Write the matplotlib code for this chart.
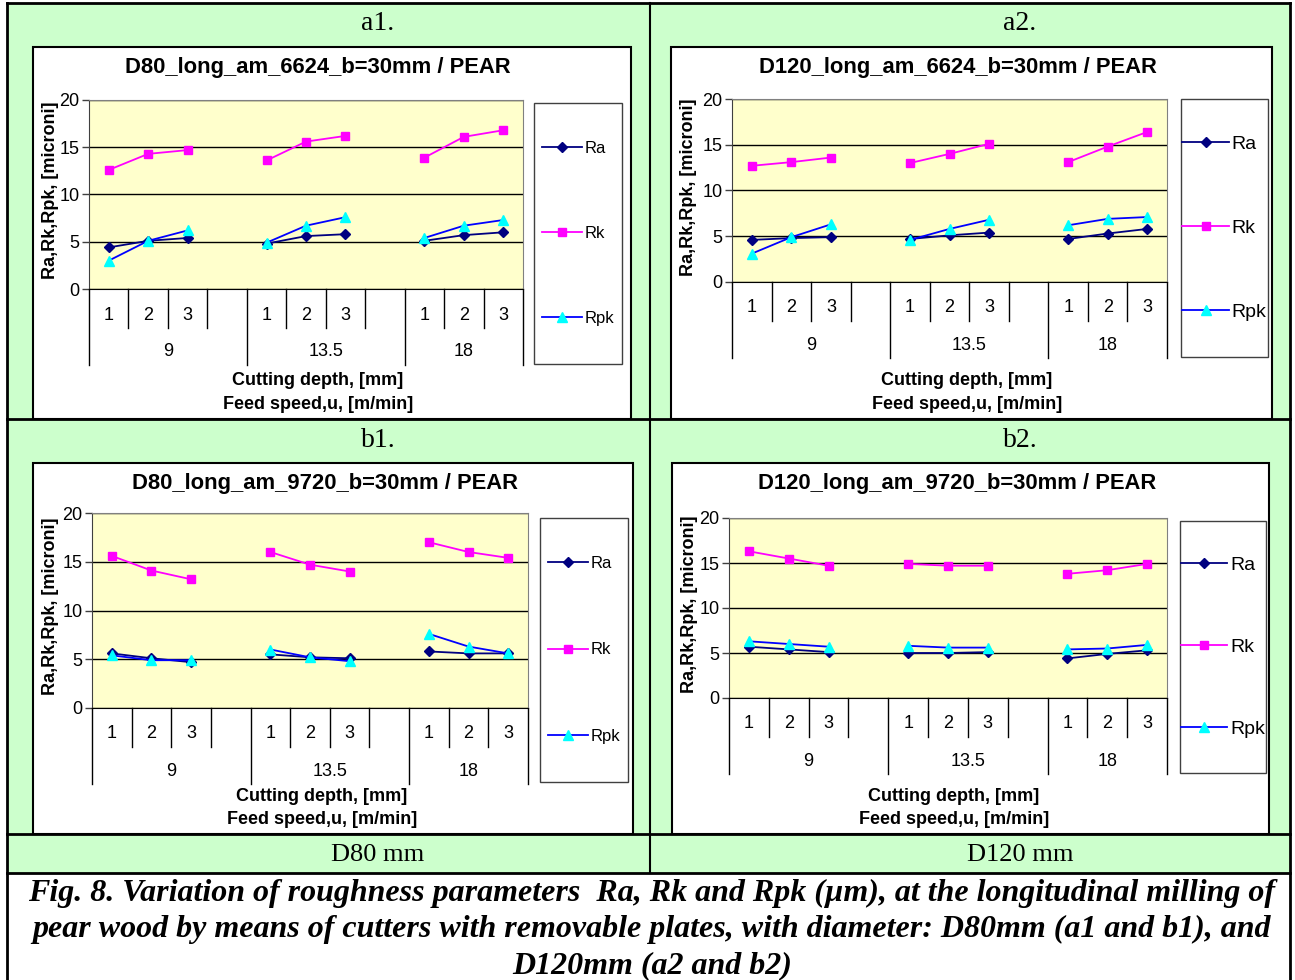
import numpy as np
import matplotlib
matplotlib.use('Agg')
import matplotlib.pyplot as plt
from matplotlib.patches import Rectangle
from matplotlib.transforms import blended_transform_factory

plt.rcParams['font.family'] = ['Liberation Sans', 'DejaVu Sans']

W, H = 1295, 980

# x axis: feed speed groups, cutting depth levels inside each group
groups = ['9', '13.5', '18']
levels = ['1', '2', '3']
series_names = ['Ra', 'Rk', 'Rpk']

# values, [group][level]
a1_ra = [[4.4, 5.1, 5.4], [4.8, 5.6, 5.8], [5.1, 5.7, 6.0]]
a1_rk = [[12.6, 14.3, 14.7], [13.6, 15.6, 16.2], [13.9, 16.1, 16.8]]
a1_rpk = [[3.0, 5.1, 6.2], [4.9, 6.7, 7.6], [5.4, 6.7, 7.3]]

a2_ra = [[4.6, 4.8, 4.9], [4.7, 5.1, 5.4], [4.7, 5.3, 5.8]]
a2_rk = [[12.7, 13.1, 13.6], [13.0, 14.0, 15.1], [13.1, 14.8, 16.4]]
a2_rpk = [[3.1, 4.9, 6.3], [4.6, 5.8, 6.8], [6.2, 6.9, 7.1]]

b1_ra = [[5.6, 5.1, 4.7], [5.5, 5.2, 5.1], [5.8, 5.6, 5.6]]
b1_rk = [[15.6, 14.1, 13.2], [16.0, 14.7, 14.0], [17.0, 16.0, 15.4]]
b1_rpk = [[5.4, 4.9, 4.9], [6.0, 5.2, 4.8], [7.6, 6.3, 5.6]]

b2_ra = [[5.7, 5.4, 5.1], [5.0, 5.0, 5.1], [4.4, 4.9, 5.3]]
b2_rk = [[16.3, 15.5, 14.7], [14.9, 14.7, 14.7], [13.8, 14.2, 14.9]]
b2_rpk = [[6.3, 6.0, 5.7], [5.8, 5.6, 5.6], [5.4, 5.5, 5.9]]

panel_tags = ['a1.', 'a2.', 'b1.', 'b2.']
titles = ['D80_long_am_6624_b=30mm / PEAR', 'D120_long_am_6624_b=30mm / PEAR',
          'D80_long_am_9720_b=30mm / PEAR', 'D120_long_am_9720_b=30mm / PEAR']
panel_data = [(a1_ra, a1_rk, a1_rpk), (a2_ra, a2_rk, a2_rpk),
              (b1_ra, b1_rk, b1_rpk), (b2_ra, b2_rk, b2_rpk)]
col_labels = ['D80 mm', 'D120 mm']
caption = ['Fig. 8. Variation of roughness parameters  Ra, Rk and Rpk (\u00b5m), at the longitudinal milling of',
           'pear wood by means of cutters with removable plates, with diameter: D80mm (a1 and b1), and',
           'D120mm (a2 and b2)']

# pixel layout of each panel
layout = [
    dict(tag=(378, 24), box=(33, 47, 631, 419), plot=(89, 100, 523, 289), leg=(534, 103, 622, 364),
         title=(318, 67), xl=(318, 380, 404), legfs=12),
    dict(tag=(1020, 24), box=(671, 47, 1272, 419), plot=(732, 99, 1167, 282), leg=(1181, 99, 1268, 357),
         title=(958, 67), xl=(967, 380, 404), legfs=14),
    dict(tag=(378, 440), box=(33, 463, 633, 834), plot=(92, 513, 528, 708), leg=(540, 518, 628, 782),
         title=(325, 483), xl=(322, 796, 819), legfs=12),
    dict(tag=(1020, 440), box=(672, 463, 1269, 834), plot=(729, 518, 1167, 698), leg=(1180, 521, 1266, 773),
         title=(957, 483), xl=(954, 796, 819), legfs=14),
]

colors = {'Ra': '#000080', 'Rk': '#FF00FF', 'Rpk': '#0000FF'}
markers = {'Ra': dict(marker='D', ms=5, mfc='#000080', mec='#000080'),
           'Rk': dict(marker='s', ms=6, mfc='#FF00FF', mec='#FF00FF'),
           'Rpk': dict(marker='^', ms=7.5, mfc='#00FFFF', mec='#00FFFF')}


def frac(x0, y0, x1, y1):
    return [x0 / W, 1 - y1 / H, (x1 - x0) / W, (y1 - y0) / H]


def flat(vals):
    out = []
    for g, grp in enumerate(vals):
        out += list(grp)
        if g < len(vals) - 1:
            out.append(np.nan)
    return out


fig = plt.figure(figsize=(W / 100, H / 100), dpi=100)
bg = fig.add_axes([0, 0, 1, 1])
bg.set_xlim(0, W)
bg.set_ylim(H, 0)
bg.axis('off')

green = '#CCFFCC'
bg.add_patch(Rectangle((7, 3), 1283, 870, fc=green, ec='none', zorder=0))
bg.plot([7, 1290], [3, 3], color='k', lw=2, zorder=5)
for y in [419, 834, 873]:
    bg.plot([7, 1290], [y, y], color='k', lw=2, zorder=5)
bg.plot([7, 7], [3, 980], color='k', lw=2, zorder=5)
bg.plot([1290, 1290], [3, 980], color='k', lw=2, zorder=5)
bg.plot([650, 650], [3, 873], color='k', lw=1.5, zorder=5)

for i, lab in enumerate(col_labels):
    bg.text(378 + 642 * i, 855, lab, family='Liberation Serif', fontsize=19, ha='center', va='center')

for k, line in enumerate(caption):
    bg.text(652, 893 + 36.5 * k, line, family='Liberation Serif', fontsize=23, fontweight='bold',
            fontstyle='italic', ha='center', va='center')

xs = np.arange(11) + 0.5
for p in range(4):
    L = layout[p]
    bg.text(L['tag'][0], L['tag'][1], panel_tags[p], family='Liberation Serif', fontsize=20,
            ha='center', va='center')
    bx = L['box']
    bg.add_patch(Rectangle((bx[0], bx[1]), bx[2] - bx[0], bx[3] - bx[1], fc='white', ec='k', lw=1.5, zorder=1))
    lg = L['leg']
    bg.add_patch(Rectangle((lg[0], lg[1]), lg[2] - lg[0], lg[3] - lg[1], fc='white', ec='#404040', lw=1, zorder=2))
    bg.text(L['title'][0], L['title'][1], titles[p], fontsize=15.8, fontweight='bold', ha='center', va='center', zorder=3)
    bg.text(L['xl'][0], L['xl'][1], 'Cutting depth, [mm]', fontsize=13, fontweight='bold', ha='center', va='center', zorder=3)
    bg.text(L['xl'][0], L['xl'][2], 'Feed speed,u, [m/min]', fontsize=13, fontweight='bold', ha='center', va='center', zorder=3)

    pl = L['plot']
    ph = pl[3] - pl[1]
    ax = fig.add_axes(frac(*pl))
    ax.set_zorder(3)
    ax.set_facecolor('#FFFFCC')
    handles = []
    for name, vals in zip(series_names, panel_data[p]):
        h, = ax.plot(xs, flat(vals), color=colors[name], lw=1.3, label=name, **markers[name])
        handles.append(h)
    ax.set_xlim(0, 11)
    ax.set_ylim(0, 20)
    ax.set_yticks([0, 5, 10, 15, 20])
    ax.set_xticks([])
    ax.yaxis.grid(True, color='k', lw=1)
    ax.set_axisbelow(True)
    ax.tick_params(axis='y', direction='out', length=5, width=1, labelsize=13, pad=2, color='#404040')
    for s in ['top', 'right']:
        ax.spines[s].set_color('#808080')
    ax.spines['left'].set_color('#404040')
    ax.spines['bottom'].set_color('k')
    ax.set_ylabel('Ra,Rk,Rpk, [microni]', fontsize=13, fontweight='bold')
    ax.yaxis.set_label_coords(-(pl[0] - bx[0] - 26) / (pl[2] - pl[0]), 0.52)

    tr = blended_transform_factory(ax.transData, ax.transAxes)
    for b in range(12):
        off = 76 if b in (0, 4, 8, 11) else 39
        ax.plot([b, b], [0, -off / ph], color='k', lw=1, transform=tr, clip_on=False)
    for g in range(3):
        for j in range(3):
            ax.text(4 * g + j + 0.5, -26 / ph, levels[j], transform=tr, fontsize=13, ha='center', va='center')
    for g, cx in enumerate([2, 6, 9.5]):
        ax.text(cx, -63 / ph, groups[g], transform=tr, fontsize=13, ha='center', va='center')

    fs = L['legfs']
    gap = (lg[3] - lg[1]) / 3.0
    ax.legend(handles=handles, loc='center',
              bbox_to_anchor=((lg[0] + lg[2]) / 2 / W, 1 - (lg[1] + lg[3]) / 2 / H),
              bbox_transform=fig.transFigure, frameon=False, fontsize=fs,
              labelspacing=(gap - fs * 100 / 72) / (fs * 100 / 72), handlelength=2.4,
              handletextpad=0.15, borderpad=0, numpoints=1)

fig.savefig('out.png', dpi=100)
